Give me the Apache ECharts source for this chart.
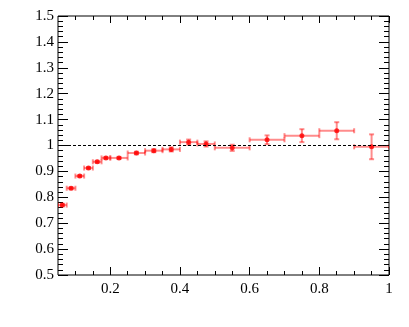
<!DOCTYPE html>
<html>
<head>
<meta charset="utf-8">
<script src="https://cdn.jsdelivr.net/npm/echarts@6/dist/echarts.min.js"></script>
<style>html,body{margin:0;padding:0;background:#fff}#c{width:409px;height:327px}</style>
</head>
<body>
<div id="c"></div>
<script>
// ---- data ----
const xCenter = [0.0625, 0.0875, 0.1125, 0.1375, 0.1625, 0.1875, 0.225, 0.275, 0.325, 0.375, 0.425, 0.475, 0.55, 0.65, 0.75, 0.85, 0.95];
const xLow    = [0.05, 0.075, 0.1, 0.125, 0.15, 0.175, 0.2, 0.25, 0.3, 0.35, 0.4, 0.45, 0.5, 0.6, 0.7, 0.8, 0.9];
const xHigh   = [0.075, 0.1, 0.125, 0.15, 0.175, 0.2, 0.25, 0.3, 0.35, 0.4, 0.45, 0.5, 0.6, 0.7, 0.8, 0.9, 1.0];
const yValue  = [0.770, 0.835, 0.882, 0.913, 0.937, 0.952, 0.952, 0.971, 0.980, 0.985, 1.013, 1.006, 0.991, 1.022, 1.038, 1.057, 0.995];
const yError  = [0.005, 0.004, 0.004, 0.004, 0.004, 0.004, 0.004, 0.005, 0.006, 0.008, 0.010, 0.010, 0.012, 0.017, 0.025, 0.033, 0.048];
const xMajorTicks = [0.2, 0.4, 0.6, 0.8, 1];
const xMinorTicks = [0.1, 0.15, 0.25, 0.3, 0.35, 0.45, 0.5, 0.55, 0.65, 0.7, 0.75, 0.85, 0.9, 0.95];
const referenceLevel = 1;

const X_MIN = 0.05, X_MAX = 1, Y_MIN = 0.5, Y_MAX = 1.5;
const font = 'Liberation Serif';

const points = xCenter.map((x, i) => [x, yValue[i], xLow[i], xHigh[i], yError[i]]);

function xAxisBase(extra) {
  return Object.assign({
    type: 'value', min: X_MIN, max: X_MAX, gridIndex: 0,
    splitLine: { show: false },
    axisLine: { show: false },
  }, extra);
}

const chart = echarts.init(document.getElementById('c'), null, { renderer: 'canvas' });
chart.setOption({
  backgroundColor: '#fff',
  animation: false,
  grid: { left: 58, right: 20, top: 16, bottom: 52, show: true, borderColor: '#000', borderWidth: 1, backgroundColor: 'transparent' },
  xAxis: [
    xAxisBase({
      position: 'bottom',
      axisTick: { show: true, inside: true, length: 8, customValues: xMajorTicks, lineStyle: { color: '#000', width: 1 } },
      axisLabel: { show: true, customValues: xMajorTicks, margin: 7, fontFamily: font, fontSize: 15, color: '#000',
                   formatter: v => String(+v.toFixed(2)) }
    }),
    xAxisBase({
      position: 'bottom',
      axisTick: { show: true, inside: true, length: 4, customValues: xMinorTicks, lineStyle: { color: '#000', width: 1 } },
      axisLabel: { show: false }
    }),
    xAxisBase({
      position: 'top',
      axisTick: { show: true, inside: true, length: 7, customValues: xMajorTicks, lineStyle: { color: '#000', width: 1 } },
      axisLabel: { show: false }
    }),
    xAxisBase({
      position: 'top',
      axisTick: { show: true, inside: true, length: 4, customValues: xMinorTicks, lineStyle: { color: '#000', width: 1 } },
      axisLabel: { show: false }
    })
  ],
  yAxis: [
    {
      type: 'value', min: Y_MIN, max: Y_MAX, interval: 0.1, position: 'left',
      splitLine: { show: false }, axisLine: { show: false },
      axisTick: { show: true, inside: true, length: 10, lineStyle: { color: '#000', width: 1 } },
      minorTick: { show: true, splitNumber: 5, length: 5, lineStyle: { color: '#000', width: 1 } },
      axisLabel: { show: true, margin: 4, fontFamily: font, fontSize: 15, color: '#000',
                   formatter: v => String(+v.toFixed(2)) }
    },
    {
      type: 'value', min: Y_MIN, max: Y_MAX, interval: 0.1, position: 'right',
      splitLine: { show: false }, axisLine: { show: false },
      axisTick: { show: true, inside: true, length: 10, lineStyle: { color: '#000', width: 1 } },
      minorTick: { show: true, splitNumber: 5, length: 5, lineStyle: { color: '#000', width: 1 } },
      axisLabel: { show: false }
    }
  ],
  series: [
    {
      type: 'custom',
      xAxisIndex: 0, yAxisIndex: 0,
      data: points,
      clip: true,
      z: 2,
      renderItem: function (params, api) {
        const xc = api.value(0), y = api.value(1), xl = api.value(2), xh = api.value(3), e = api.value(4);
        const pL = api.coord([xl, y]), pH = api.coord([xh, y]);
        const pT = api.coord([xc, y + e]), pB = api.coord([xc, y - e]);
        const style = { stroke: 'rgba(255,0,0,0.45)', lineWidth: 2, fill: null };
        const cap = 2.5;
        const seg = (x1, y1, x2, y2) => ({ type: 'line', shape: { x1, y1, x2, y2 }, style });
        return {
          type: 'group',
          children: [
            seg(pL[0], pL[1], pH[0], pH[1]),
            seg(pL[0], pL[1] - cap, pL[0], pL[1] + cap),
            seg(pH[0], pH[1] - cap, pH[0], pH[1] + cap),
            seg(pT[0], pT[1], pB[0], pB[1]),
            seg(pT[0] - cap, pT[1], pT[0] + cap, pT[1]),
            seg(pB[0] - cap, pB[1], pB[0] + cap, pB[1])
          ]
        };
      }
    },
    {
      type: 'scatter',
      xAxisIndex: 0, yAxisIndex: 0,
      data: points.map(p => [p[0], p[1]]),
      symbol: 'circle',
      symbolSize: 5,
      itemStyle: { color: '#ff0000' },
      z: 3,
      markLine: {
        silent: true,
        symbol: ['none', 'none'],
        label: { show: false },
        lineStyle: { color: '#000', type: [3, 2], width: 1 },
        data: [{ yAxis: referenceLevel }]
      }
    }
  ]
});
</script>
</body>
</html>
